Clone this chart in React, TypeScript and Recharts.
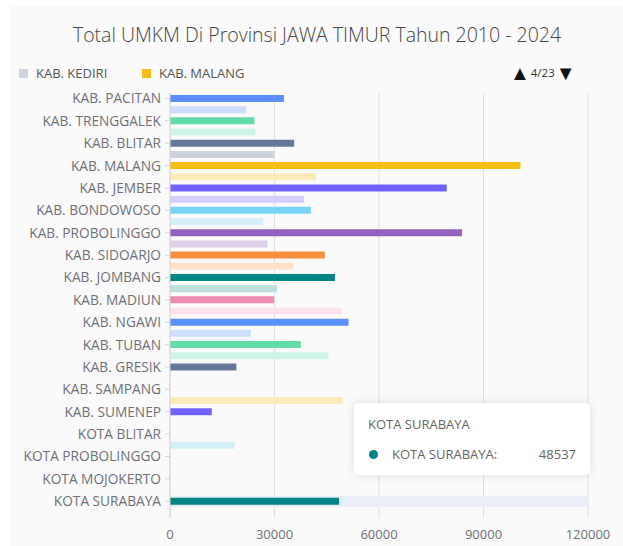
import React from "react";
import { BarChart, Bar, XAxis, YAxis, CartesianGrid, Tooltip, Cell } from "recharts";

const regions = [
  "KAB. PACITAN", "KAB. PONOROGO", "KAB. TRENGGALEK", "KAB. TULUNGAGUNG", "KAB. BLITAR",
  "KAB. KEDIRI", "KAB. MALANG", "KAB. LUMAJANG", "KAB. JEMBER", "KAB. BANYUWANGI",
  "KAB. BONDOWOSO", "KAB. SITUBONDO", "KAB. PROBOLINGGO", "KAB. PASURUAN", "KAB. SIDOARJO",
  "KAB. MOJOKERTO", "KAB. JOMBANG", "KAB. NGANJUK", "KAB. MADIUN", "KAB. MAGETAN",
  "KAB. NGAWI", "KAB. BOJONEGORO", "KAB. TUBAN", "KAB. LAMONGAN", "KAB. GRESIK",
  "KAB. BANGKALAN", "KAB. SAMPANG", "KAB. PAMEKASAN", "KAB. SUMENEP", "KOTA KEDIRI",
  "KOTA BLITAR", "KOTA MALANG", "KOTA PROBOLINGGO", "KOTA PASURUAN", "KOTA MOJOKERTO",
  "KOTA MADIUN", "KOTA SURABAYA", "KOTA BATU",
];

const totals = [
  32700, 21950, 24250, 24550, 35650,
  29900, 100600, 41950, 79450, 38500,
  40450, 26750, 83850, 28000, 44450,
  35450, 47350, 30750, 29900, 49350,
  51250, 23200, 37550, 45450, 19050,
  0, 0, 49650, 12000, 0,
  0, 18500, 0, 0, 0,
  0, 48537, 0,
];

const palette = [
  "#5B8FF9", "#CDDDFD", "#61DDAA", "#CDF3E4", "#65789B",
  "#CED4DE", "#F6BD16", "#FCEBB9", "#7262FD", "#D3CEFD",
  "#78D3F8", "#D3EEF9", "#9661BC", "#DECFEA", "#F6903D",
  "#FFE0C7", "#008685", "#BBDEDE", "#F08BB4", "#FFE0ED",
];

const xTicks = [0, 30000, 60000, 90000, 120000];

const chartData = regions.map((name, i) => ({ name, total: totals[i] }));

const font = "'Open Sans', sans-serif";

function SurabayaTooltip({ active, payload }: any) {
  if (!active || !payload || !payload.length) return null;
  const item = payload[0];
  const idx = regions.indexOf(item.payload.name);
  return (
    <div
      style={{
        width: 236,
        height: 72,
        boxSizing: "border-box",
        background: "#fff",
        borderRadius: 4,
        boxShadow: "0 0 10px rgba(0,0,0,0.12)",
        padding: "12px 14px",
        fontFamily: font,
        fontSize: 13,
        color: "#666",
      }}
    >
      <div style={{ lineHeight: "18px" }}>{item.payload.name}</div>
      <div style={{ display: "flex", alignItems: "center", marginTop: 12, lineHeight: "18px" }}>
        <span
          style={{
            width: 9,
            height: 9,
            borderRadius: "50%",
            background: palette[idx % palette.length],
            marginLeft: 1,
            marginRight: 14,
          }}
        />
        <span style={{ flex: 1 }}>{item.payload.name}:</span>
        <span>{item.value}</span>
      </div>
    </div>
  );
}

export default function App() {
  return (
    <div style={{ position: "relative", width: 623, height: 546, background: "#fff", fontFamily: font }}>
      <style>{"body{margin:0}"}</style>
      <div style={{ position: "absolute", left: 10, top: 6, width: 613, height: 540, background: "#fafafa" }} />
      <div
        style={{
          position: "absolute",
          left: 0,
          top: 21,
          width: 634,
          textAlign: "center",
          fontSize: 19.5,
          fontWeight: 300,
          color: "#464646",
          lineHeight: "28px",
        }}
      >
        Total UMKM Di Provinsi JAWA TIMUR Tahun 2010 - 2024
      </div>
      <span style={{ position: "absolute", left: 19, top: 69, width: 9, height: 9, background: "#CED4DE" }} />
      <span style={{ position: "absolute", left: 36, top: 64, fontSize: 13, lineHeight: "18px", color: "#555" }}>
        KAB. KEDIRI
      </span>
      <span style={{ position: "absolute", left: 142, top: 69, width: 9, height: 9, background: "#F6BD16" }} />
      <span style={{ position: "absolute", left: 159, top: 64, fontSize: 13, lineHeight: "18px", color: "#555" }}>
        KAB. MALANG
      </span>
      <div style={{ position: "absolute", left: 510, top: 61, color: "#111", display: "flex", alignItems: "center", lineHeight: "24px" }}>
        <span style={{ fontSize: 20 }}>▲</span>
        <span style={{ fontSize: 11.5, color: "#333", margin: "0 1px" }}>4/23</span>
        <span style={{ fontSize: 20 }}>▼</span>
      </div>
      <div style={{ position: "absolute", left: 0, top: 0 }}>
        <BarChart
          width={623}
          height={546}
          data={chartData}
          layout="vertical"
          margin={{ top: 93, right: 35, bottom: 0, left: 0 }}
        >
          <CartesianGrid horizontal={false} stroke="#e0e0e0" />
          <XAxis
            type="number"
            domain={[0, 120000]}
            ticks={xTicks}
            height={28}
            axisLine={false}
            tickLine={false}
            tickMargin={6}
            tick={{ fill: "#6e7079", fontSize: 13, fontFamily: font }}
          />
          <YAxis
            type="category"
            dataKey="name"
            width={170}
            interval={1}
            axisLine={{ stroke: "#d6d6d6" }}
            tickLine={{ stroke: "#d6d6d6" }}
            tickSize={5}
            tickMargin={4}
            tick={{ fill: "#6e7079", fontSize: 13.7, fontFamily: font }}
          />
          <Tooltip
            active
            defaultIndex={36}
            position={{ x: 354, y: 403 }}
            cursor={{ fill: "#e9edf6" }}
            content={<SurabayaTooltip />}
            isAnimationActive={false}
          />
          <Bar dataKey="total" barSize={7} isAnimationActive={false}>
            {chartData.map((d, i) => (
              <Cell key={d.name} fill={palette[i % palette.length]} />
            ))}
          </Bar>
        </BarChart>
      </div>
    </div>
  );
}
